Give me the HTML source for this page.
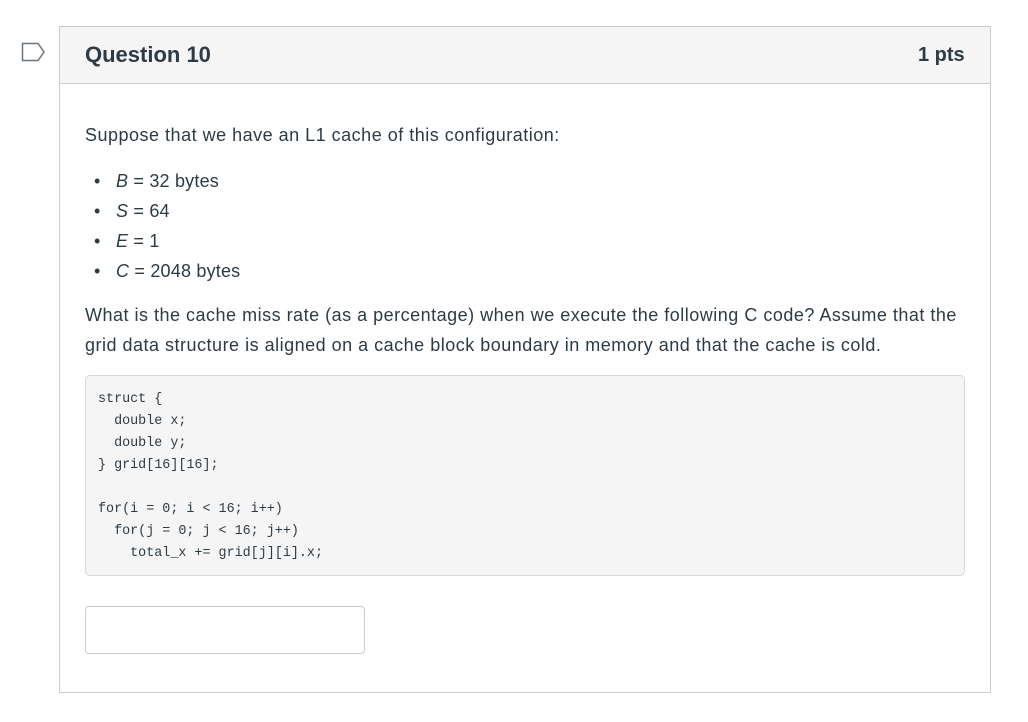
<!DOCTYPE html>
<html><head><style>
body{margin:0;width:1028px;height:722px;background:#fff;font-family:"Liberation Sans",sans-serif;color:#2d3b45;position:relative;overflow:hidden}
.abs{position:absolute}
.box{left:59px;top:26px;width:930px;height:665px;border:1px solid #c7cdd1}
.hdr{left:60px;top:27px;width:930px;height:56px;background:#f5f5f5;border-bottom:1px solid #c7cdd1}
.t{font-size:18px;letter-spacing:0.5px;white-space:nowrap}
.b{font-size:18px;letter-spacing:0.2px;white-space:nowrap}
.code{left:85px;top:375px;width:878px;height:199px;background:#f5f5f5;border:1px solid #d6d8da;border-radius:5px}
pre{margin:0;position:absolute;left:12px;top:13px;font-family:"Liberation Mono",monospace;font-size:13.4px;line-height:22px;color:#2d3b45}
</style></head><body>
<svg class="abs" style="left:21px;top:42px" width="26" height="20"><path d="M1.5 1.5H17L23 10L17 18.5H1.5Z" fill="none" stroke="#6b7780" stroke-width="1.5"/></svg>
<div class="abs box"></div>
<div class="abs hdr"></div>
<div class="abs" style="left:85px;top:42px;font-size:22px;font-weight:bold;color:#2d3b45">Question 10</div>
<div class="abs" style="left:918px;top:44px;font-size:20px;font-weight:bold;color:#2d3b45">1 pts</div>
<div class="abs t" style="left:85px;top:125px">Suppose that we have an L1 cache of this configuration:</div>
<div class="abs b" style="left:94px;top:171px">•</div><div class="abs b" style="left:116px;top:171px"><i>B</i> = 32 bytes</div>
<div class="abs b" style="left:94px;top:201px">•</div><div class="abs b" style="left:116px;top:201px"><i>S</i> = 64</div>
<div class="abs b" style="left:94px;top:231px">•</div><div class="abs b" style="left:116px;top:231px"><i>E</i> = 1</div>
<div class="abs b" style="left:94px;top:261px">•</div><div class="abs b" style="left:116px;top:261px"><i>C</i> = 2048 bytes</div>
<div class="abs t" style="left:85px;top:305px">What is the cache miss rate (as a percentage) when we execute the following C code? Assume that the</div>
<div class="abs t" style="left:85px;top:335px">grid data structure is aligned on a cache block boundary in memory and that the cache is cold.</div>
<div class="abs code"><pre>struct {
  double x;
  double y;
} grid[16][16];

for(i = 0; i &lt; 16; i++)
  for(j = 0; j &lt; 16; j++)
    total_x += grid[j][i].x;</pre></div>
<div class="abs" style="left:85px;top:606px;width:278px;height:46px;border:1px solid #c7cdd1;border-radius:4px"></div>
</body></html>
